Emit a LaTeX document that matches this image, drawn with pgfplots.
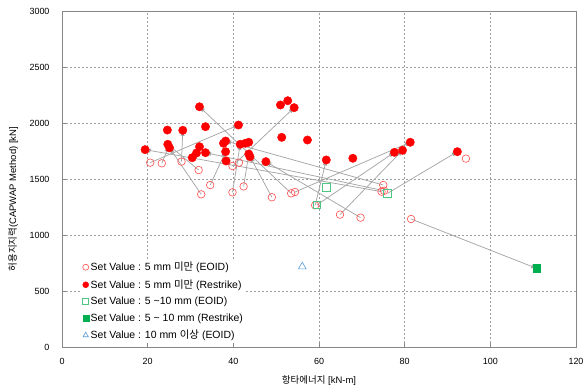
\documentclass[border=0pt]{standalone}
\usepackage{pgfplots}
\pgfplotsset{compat=1.18}
\usepackage{fontspec}
\setmainfont{Liberation Sans}
\newfontfamily\kr{Noto Sans CJK KR}
\usetikzlibrary{arrows.meta}
\definecolor{arr}{HTML}{A6A6A6}
\definecolor{gr}{HTML}{00B050}
\definecolor{bl}{HTML}{5B9BD5}
\definecolor{ax}{HTML}{868686}
\begin{document}
\begin{tikzpicture}
\begin{axis}[
  scale only axis, width=514bp, height=336bp,
  xmin=0, xmax=120, ymin=0, ymax=3000,
  xtick={0,20,...,120}, ytick={0,500,...,3000},
  xtick pos=bottom, ytick pos=left,
  grid=major,
  major grid style={draw=ax!80, dash pattern=on 2bp off 2bp, line width=0.6bp},
  axis line style={draw=ax, line width=0.8bp},
  tick style={draw=ax, line width=0.6bp},
  tick align=inside,
  major tick length=4bp,
  ticklabel style={font=\fontsize{9}{10}\selectfont},
  xticklabel style={yshift=-8bp},
  yticklabel style={xshift=-9bp},
  /pgf/number format/assume math mode=true,
  /pgf/number format/1000 sep={},
  xlabel={{\kr 항타에너지} [kN-m]},
  ylabel={{\kr 허용지지력}(CAPWAP Method) [kN]},
  label style={font=\fontsize{9.5}{10}\selectfont},
  xlabel style={yshift=-3.5bp},
  ylabel style={at={(axis description cs:-0.095,0.44)}, anchor=center},
  legend style={at={(0.038,0.262)}, anchor=north west, draw=none, fill=white,
    font=\fontsize{10.5}{12}\selectfont, row sep=3.4bp, inner sep=1bp,
    legend cell align=left},
  legend image code/.code={\draw[#1] plot coordinates {(0.1cm,0cm)};},
  legend image post style={mark size=3bp},
  clip=false,
]
% arrows EOID -> Restrike
\addplot[forget plot, draw=arr, line width=0.75bp, -{Latex[length=5.5bp,width=4.5bp]},
  quiver={u=\thisrow{u}, v=\thisrow{v}}] table {
x y u v
32.5 1363 -7.4 416
31.9 1580 -7.2 230
23.3 1640 1.6 150
20.6 1646 20.6 336
27.9 1655 0.3 280
53.5 1372 -21.4 773
54.4 1384 26.9 444
74.6 1387 -55.2 375
75.0 1446 -36.8 393
75.2 1395 -41.7 340
76.0 1372 16.3 372
69.7 1155 -22.1 500
64.9 1182 14.6 574
59.5 1268 18.1 470
59.1 1265 2.6 405
81.5 1143 29.3 -441
49.0 1337 -5.1 362
42.4 1434 1.2 289
39.8 1381 1.8 429
34.6 1446 3.6 298
39.8 1616 14.4 521
};
% 5 mm EOID
\addplot[only marks, mark=o, mark size=3.8bp, draw=red!70, mark options={line width=0.6bp}] table {
x y
20.6 1646
23.3 1640
27.9 1655
31.9 1580
34.6 1446
32.5 1363
39.8 1381
42.4 1434
39.8 1616
41.3 1646
49.0 1337
53.5 1372
54.4 1384
59.1 1265
64.9 1182
69.7 1155
75.0 1446
74.6 1387
75.2 1395
81.5 1143
94.3 1682
};
\addlegendentry{Set Value : 5 mm {\kr 미만} (EOID)}
% 5 mm Restrike
\addplot[only marks, mark=*, mark size=4.2bp, draw=red, fill=red] table {
x y
32.1 2145
33.5 1967
41.2 1982
24.6 1937
28.2 1935
19.4 1762
24.7 1810
25.1 1779
32.1 1788
31.4 1732
33.5 1735
30.4 1690
38.2 1839
37.7 1819
38.2 1744
41.6 1810
42.8 1819
43.6 1828
43.6 1723
43.9 1699
38.3 1661
51.0 2161
52.7 2199
54.2 2137
51.3 1872
57.3 1848
47.6 1655
61.7 1670
67.9 1685
77.6 1738
79.5 1756
81.3 1828
92.3 1744
};
\addlegendentry{Set Value : 5 mm {\kr 미만} (Restrike)}
% 5~10 EOID
\addplot[only marks, mark=square, mark size=3.8bp, draw=gr!70, mark options={line width=0.6bp}] table {
x y
61.7 1428
59.5 1268
76.0 1372
};
\addlegendentry{Set Value : 5 \textasciitilde10 mm (EOID)}
% 5~10 Restrike
\addplot[only marks, mark=square*, mark size=3.8bp, draw=gr, fill=gr] table {
x y
110.8 702
};
\addlegendentry{Set Value : 5 \textasciitilde\ 10 mm (Restrike)}
% 10mm EOID
\addplot[only marks, mark=triangle, mark size=4.5bp, draw=bl, mark options={line width=0.6bp}] table {
x y
56.1 717
};
\addlegendentry{Set Value : 10 mm {\kr 이상} (EOID)}
\end{axis}
\pgfresetboundingbox
\path (-62bp,-41bp) rectangle (522bp,347bp);
\end{tikzpicture}
\end{document}
